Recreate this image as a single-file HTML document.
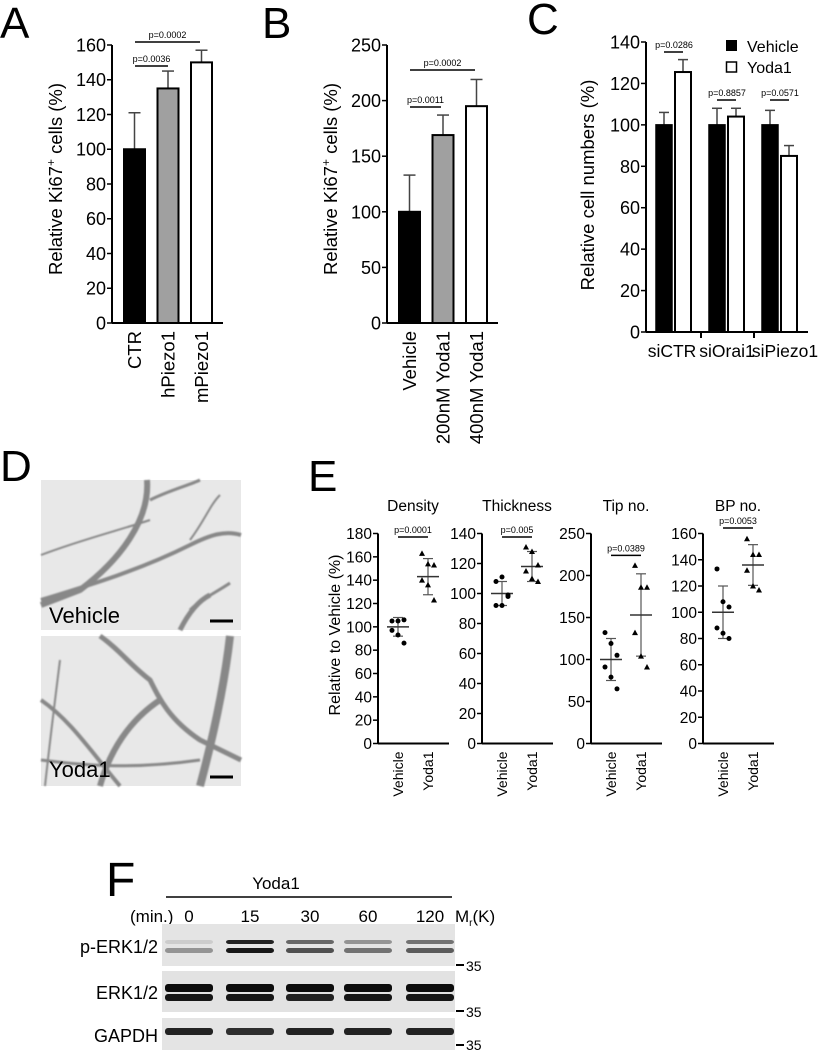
<!DOCTYPE html>
<html><head><meta charset="utf-8"><style>
body{margin:0;background:#fff}
svg{display:block;font-family:"Liberation Sans",Arial,sans-serif}
</style></head><body>
<svg id="fig" width="822" height="1050" viewBox="0 0 822 1050">
<text x="0" y="38" font-size="44">A</text>
<text x="262" y="38" font-size="44">B</text>
<text x="527" y="34" font-size="44">C</text>
<text x="0" y="481" font-size="44">D</text>
<text x="308" y="491" font-size="44">E</text>
<text x="106" y="896" font-size="48">F</text>
<g id="panelD">
  <defs>
    <filter id="blur1"><feGaussianBlur stdDeviation="0.8"/></filter>
  </defs>
  <rect x="41" y="480" width="200" height="150" fill="#e8e8e8"/>
  <g stroke="#888" fill="none" filter="url(#blur1)">
    <path d="M147 480 C150 520 120 560 80 590 L41 605" stroke-width="6"/>
    <path d="M41 600 C90 585 140 570 190 545 C210 535 225 530 241 535" stroke-width="4"/>
    <path d="M150 500 C170 490 190 485 200 480" stroke-width="3"/>
    <path d="M150 520 C120 530 80 540 41 555" stroke-width="2"/>
    <path d="M180 630 C190 610 200 600 210 595" stroke-width="5"/>
    <path d="M230 583 C220 590 200 600 190 610" stroke-width="3"/>
    <path d="M190 540 C205 520 210 505 220 495" stroke-width="2"/>
  </g>
  <text x="49" y="623" font-size="22" fill="#000">Vehicle</text>
  <line x1="210" y1="621" x2="233" y2="621" stroke="#000" stroke-width="3"/>
  <rect x="41" y="636" width="200" height="150" fill="#e8e8e8"/>
  <g stroke="#888" fill="none" filter="url(#blur1)">
    <path d="M100 636 C120 650 130 665 150 680 C160 700 170 720 200 740 L241 760" stroke-width="5"/>
    <path d="M41 700 C70 720 90 750 120 786" stroke-width="4"/>
    <path d="M160 700 C130 720 110 750 100 786" stroke-width="6"/>
    <path d="M230 636 C225 680 215 730 200 786" stroke-width="8"/>
    <path d="M41 760 C80 765 130 770 200 760" stroke-width="3"/>
    <path d="M60 660 C55 700 50 740 45 786" stroke-width="2"/>
  </g>
  <text x="49" y="777" font-size="22" fill="#000">Yoda1</text>
  <line x1="210" y1="777" x2="233" y2="777" stroke="#000" stroke-width="3"/>
</g>
<g id="panelF">
  <text x="276" y="889" font-size="17" text-anchor="middle">Yoda1</text>
  <line x1="166" y1="897" x2="452" y2="897" stroke="#000" stroke-width="1.5"/>
  <text x="130" y="922" font-size="17">(min.)</text>
  <text x="189" y="922" font-size="17" text-anchor="middle">0</text>
  <text x="250" y="922" font-size="17" text-anchor="middle">15</text>
  <text x="310" y="922" font-size="17" text-anchor="middle">30</text>
  <text x="368" y="922" font-size="17" text-anchor="middle">60</text>
  <text x="430" y="922" font-size="17" text-anchor="middle">120</text>
  <text x="455" y="922" font-size="17">M<tspan font-size="10" dy="4">r</tspan><tspan dy="-4">(K)</tspan></text>
  <rect x="162" y="924" width="293" height="42" fill="#e4e4e4"/>
  <rect x="162" y="971" width="293" height="41" fill="#e2e2e2"/>
  <rect x="162" y="1018" width="293" height="32" fill="#e4e4e4"/>
  <g id="bands"></g>
  <text x="158" y="953" font-size="18" text-anchor="end">p-ERK1/2</text>
  <text x="158" y="999" font-size="18" text-anchor="end">ERK1/2</text>
  <text x="158" y="1042" font-size="18" text-anchor="end">GAPDH</text>
  <g font-size="14">
    <line x1="456" y1="965" x2="464" y2="965" stroke="#000" stroke-width="2"/><text x="466" y="971">35</text>
    <line x1="456" y1="1011" x2="464" y2="1011" stroke="#000" stroke-width="2"/><text x="466" y="1017">35</text>
    <line x1="456" y1="1045" x2="464" y2="1045" stroke="#000" stroke-width="2"/><text x="466" y="1050">35</text>
  </g>
</g>
</svg>
<script>
const NS="http://www.w3.org/2000/svg";
const svg=document.getElementById('fig');
// Panel A data
const aCats=["CTR","hPiezo1","mPiezo1"];
const aVals=[100,135,150];
const aErr=[21,10,7];
const aTicks=[0,20,40,60,80,100,120,140,160];
// Panel B data
const bCats=["Vehicle","200nM Yoda1","400nM Yoda1"];
const bVals=[100,169,195];
const bErr=[33,18,24];
const bTicks=[0,50,100,150,200,250];
// Panel C data
const cGroups=["siCTR","siOrai1","siPiezo1"];
const cVehicle=[100,100,100];
const cVehicleErr=[6,8,7];
const cYoda=[125.5,104,85];
const cYodaErr=[6,4,5];
const cTicks=[0,20,40,60,80,100,120,140];
const cPvals=["p=0.0286","p=0.8857","p=0.0571"];
// Panel E data
const eTitles=["Density","Thickness","Tip no.","BP no."];
const eVehicle=[[105,105,106,97,93,86],[108,111,98,92,92,99],[132,119,105,91,79,65],[133,108,104,88,84,80]];
const eYoda=[[163,154,153,140,136,123],[131,128,119,115,110,108],[212,186,186,132,104,91],[156,144,144,132,120,117]];
const eVehMean=[100,100,100,100], eVehSD=[8,8,25,20];
const eYodaMean=[143,118,153,136], eYodaSD=[15.5,10,49,15.5];
const eMax=[180,140,250,160];
const eStep=[20,20,50,20];
const ePvals=["p=0.0001","p=0.005","p=0.0389","p=0.0053"];
// Blot band intensities (0-1)
const bandUpper=[[0.1,0.85,0.55,0.35,0.5],[0.95,0.95,0.95,0.95,0.95]];
const bandLower=[[0.35,0.9,0.65,0.5,0.6],[0.9,0.9,0.85,0.9,0.9]];
const gapdh=[0.85,0.8,0.85,0.85,0.85];

function el(tag,attrs,parent,text){const e=document.createElementNS(NS,tag);for(const k in attrs)e.setAttribute(k,attrs[k]);if(text!==undefined)e.textContent=text;(parent||svg).appendChild(e);return e;}

function axisY(g,x,y0,yTop,ticks,max,x2,fs){
  const sc=v=>y0-(y0-yTop)*v/max;
  el('line',{x1:x,y1:sc(max),x2:x,y2:y0,stroke:'#000','stroke-width':2},g);
  el('line',{x1:x,y1:y0,x2:x2,y2:y0,stroke:'#000','stroke-width':2},g);
  ticks.forEach(t=>{
    el('line',{x1:x-5,y1:sc(t),x2:x,y2:sc(t),stroke:'#000','stroke-width':1.5},g);
    const tx=el('text',{x:x-6,y:sc(t)+fs*0.36,'font-size':fs,'text-anchor':'end'},g,String(t));
    
    
  });
  return sc;
}
function yTitle(g,x,y){
  const t=el('text',{transform:`translate(${x},${y}) rotate(-90)`,'font-size':18.5,'text-anchor':'middle'},g);
  
  
  t.appendChild(document.createTextNode("Relative Ki67"));el('tspan',{dy:-7,'font-size':12},t,"+");el('tspan',{dy:7},t," cells (%)");
}
function errBar(g,cx,yv,ye,w){
  el('line',{x1:cx,y1:ye,x2:cx,y2:yv,stroke:'#444','stroke-width':1.5},g);
  el('line',{x1:cx-w,y1:ye,x2:cx+w,y2:ye,stroke:'#444','stroke-width':1.5},g);
}
function pAnn(g,x1,x2,y,txt){
  el('line',{x1:x1,y1:y,x2:x2,y2:y,stroke:'#000','stroke-width':1.5},g);
  const t=el('text',{x:(x1+x2)/2,y:y-4,'font-size':9,'text-anchor':'middle'},g,txt);
  
  
}
function barChart(name,ax,y0,yTop,x2,max,ticks,cats,vals,errs,left,bw,gap,fills,ann){
  const g=el('g',{});
  
  
  const sc=axisY(g,ax,y0,yTop,ticks,max,x2,18);
  yTitle(g,ax-50,y0-144);
  cats.forEach((c,i)=>{
    const bx=left+i*(bw+gap);
    errBar(g,bx+bw/2,sc(vals[i]),sc(vals[i]+errs[i]),6);
    const r=el('rect',{x:bx,y:sc(vals[i]),width:bw,height:y0-sc(vals[i]),fill:fills[i],stroke:'#000','stroke-width':2},g);
    
    
    const t=el('text',{transform:`translate(${bx+bw/2+6.5},${y0+8}) rotate(-90)`,'font-size':18.5,'text-anchor':'end'},g,c);
    
    
  });
  ann(g);
}
barChart('panel-a-chart',112,323,45,223,160,aTicks,aCats,aVals,aErr,124,21,12.5,['#000','#a0a0a0','#fff'],(g)=>{
  pAnn(g,135,168,66,"p=0.0036");pAnn(g,135,200,42,"p=0.0002");});
barChart('panel-b-chart',387,323,45,498,250,bTicks,bCats,bVals,bErr,399,21,12.5,['#000','#a0a0a0','#fff'],(g)=>{
  pAnn(g,410,441,107,"p=0.0011");pAnn(g,410,475,70,"p=0.0002");});

// Panel C
(function(){
  const g=el('g',{});
  
  
  const ax=646,y0=332,yTop=42,max=140;
  const sc=axisY(g,ax,y0,yTop,cTicks,max,808,18);
  const t=el('text',{transform:`translate(${ax-52},${y0-147}) rotate(-90)`,'font-size':18.5,'text-anchor':'middle'},g,"Relative cell numbers (%)");
  
  
  [701,754].forEach(x=>el('line',{x1:x,y1:y0,x2:x,y2:y0+6,stroke:'#000','stroke-width':2},g));
  const labX=[672,727,785];
  cGroups.forEach((c,i)=>{
    const gx=656+i*53;
    errBar(g,gx+8,sc(cVehicle[i]),sc(cVehicle[i]+cVehicleErr[i]),5);
    errBar(g,gx+27,sc(cYoda[i]),sc(cYoda[i]+cYodaErr[i]),5);
    const r1=el('rect',{x:gx,y:sc(cVehicle[i]),width:16,height:y0-sc(cVehicle[i]),fill:'#000',stroke:'#000','stroke-width':1.5},g);
    
    
    const r2=el('rect',{x:gx+19,y:sc(cYoda[i]),width:16,height:y0-sc(cYoda[i]),fill:'#fff',stroke:'#000','stroke-width':2},g);
    
    
    const lt=el('text',{x:labX[i],y:357,'font-size':17.5,'text-anchor':'middle'},g,c);
    
    
    const py=i==0?52:100;
    pAnn(g,gx+8,gx+27,py,"");
    const pt=el('text',{x:gx+18,y:py-4,'font-size':9,'text-anchor':'middle'},g,cPvals[i]);
    
    
  });
  const l1=el('rect',{x:726,y:40,width:11,height:11,fill:'#000'},g);
  
  
  el('text',{x:747,y:52,'font-size':16},g,"Vehicle");
  const l2=el('rect',{x:726.5,y:62,width:10,height:10,fill:'#fff',stroke:'#000','stroke-width':1.5},g);
  
  
  el('text',{x:747,y:73,'font-size':16},g,"Yoda1");
})();

// Panel E
(function(){
  const axes=[378,482,591,703];
  eTitles.forEach((title,i)=>{
    const g=el('g',{});
    
    
    const ax=axes[i],y0=743.5,yTop=533.5,max=eMax[i];
    const ticks=[];for(let v=0;v<=max;v+=eStep[i])ticks.push(v);
    const sc=axisY(g,ax,y0,yTop,ticks,max,ax+71,15.5);
    const vx=ax+20,yx=ax+50;
    const tt=el('text',{x:ax+35,y:511,'font-size':15.5,'text-anchor':'middle'},g,title);
    
    
    [[vx,eVehMean[i],eVehSD[i]],[yx,eYodaMean[i],eYodaSD[i]]].forEach(([x,m,s])=>{
      el('line',{x1:x,y1:sc(m-s),x2:x,y2:sc(m+s),stroke:'#555','stroke-width':1.2},g);
      el('line',{x1:x-5,y1:sc(m-s),x2:x+5,y2:sc(m-s),stroke:'#555','stroke-width':1.2},g);
      el('line',{x1:x-5,y1:sc(m+s),x2:x+5,y2:sc(m+s),stroke:'#555','stroke-width':1.2},g);
      el('line',{x1:x-11,y1:sc(m),x2:x+11,y2:sc(m),stroke:'#333','stroke-width':1.5},g);
    });
    const offs=[-6,0,6,-6,0,6];
    eVehicle[i].forEach((v,j)=>{
      const c=el('circle',{cx:vx+offs[j],cy:sc(v),r:2.5,fill:'#000'},g);
      
      
    });
    eYoda[i].forEach((v,j)=>{
      const x=yx+offs[j],y=sc(v);
      const p=el('polygon',{points:`${x},${y-3} ${x-3},${y+2.5} ${x+3},${y+2.5}`,fill:'#000'},g);
      
      
    });
    const py=sc(Math.max(...eYoda[i]))-10;
    pAnn(g,vx,yx,Math.min(py,[537,537,556,528][i]),ePvals[i]);
    ["Vehicle","Yoda1"].forEach((c,k)=>{
      const t=el('text',{transform:`translate(${(k?yx:vx)+5},${y0+8}) rotate(-90)`,'font-size':14,'text-anchor':'end'},g,c);
      
      
    });
  });
  const t=el('text',{transform:`translate(340,635) rotate(-90)`,'font-size':16,'text-anchor':'middle'},svg,"Relative to Vehicle (%)");
  
  
})();

// Blot bands
(function(){
  const g=document.getElementById('bands');
  const xs=[189,250,310,368,430];
  const band=(x,y,h,a)=>{const r=el('rect',{x:x-24,y:y,width:48,height:h,rx:3,fill:'#000','fill-opacity':a},g);};
  xs.forEach((x,i)=>{
    band(x,940,4,bandUpper[0][i]);band(x,948,5,bandLower[0][i]);
    band(x,984,8,bandUpper[1][i]);band(x,994,7,bandLower[1][i]);
    band(x,1028,7,gapdh[i]);
  });
})();
</script>
</body></html>
